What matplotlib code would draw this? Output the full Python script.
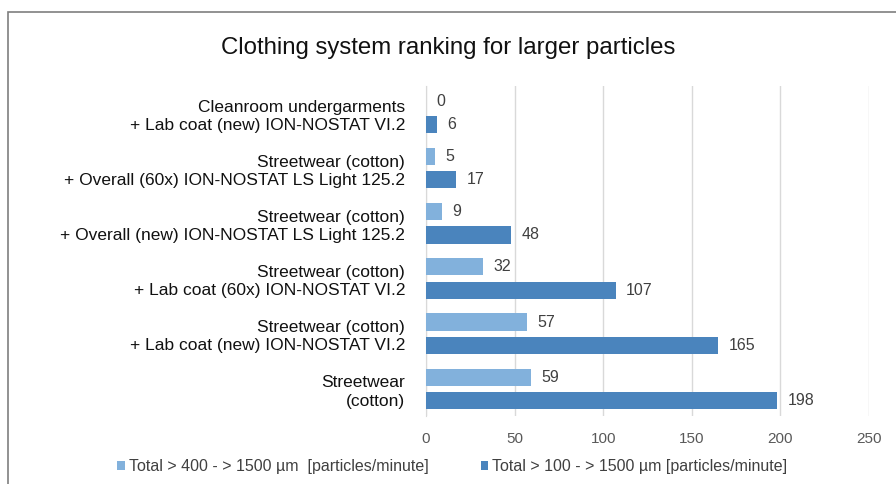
import matplotlib
matplotlib.use('Agg')
import matplotlib.pyplot as plt
from matplotlib.patches import Rectangle
import numpy as np

plt.rcParams['font.family'] = ['Liberation Sans', 'DejaVu Sans']

# Данные
categories = [
    'Cleanroom undergarments\n+ Lab coat (new) ION-NOSTAT VI.2',
    'Streetwear (cotton)\n+ Overall (60x) ION-NOSTAT LS Light 125.2',
    'Streetwear (cotton)\n+ Overall (new) ION-NOSTAT LS Light 125.2',
    'Streetwear (cotton)\n+ Lab coat (60x) ION-NOSTAT VI.2',
    'Streetwear (cotton)\n+ Lab coat (new) ION-NOSTAT VI.2',
    'Streetwear\n(cotton)',
]
large_vals = [0, 5, 9, 32, 57, 59]
total_vals = [6, 17, 48, 107, 165, 198]
x_ticks = [0, 50, 100, 150, 200, 250]
label_large = 'Total > 400 - > 1500 µm  [particles/minute]'
label_total = 'Total > 100 - > 1500 µm [particles/minute]'

c_light = '#82b1dc'
c_dark = '#4a84bd'

fig = plt.figure(figsize=(8.96, 4.84), dpi=100)
ax = fig.add_axes([0.4754, 0.140, 0.4945, 0.683])

y = np.arange(len(categories))
h = 0.31
off = 0.21
b1 = ax.barh(y - off, large_vals, height=h, color=c_light, label=label_large, zorder=3)
b2 = ax.barh(y + off, total_vals, height=h, color=c_dark, label=label_total, zorder=3)

# Подписи значений
for bars, vals in ((b1, large_vals), (b2, total_vals)):
    for r, v in zip(bars, vals):
        ax.text(v + 6, r.get_y() + r.get_height() / 2, str(v), va='center', ha='left',
                fontsize=11.5, color='#404040')

ax.set_xlim(0, 250)
ax.set_ylim(len(categories) - 0.5, -0.5)
ax.set_xticks(x_ticks)
ax.set_yticks(y)
ax.set_yticklabels(categories, fontsize=12.5, color='#111111', linespacing=1.28)
ax.tick_params(axis='x', length=0, labelsize=11, colors='#595959', pad=11)
ax.tick_params(axis='y', length=0, pad=15)
ax.grid(axis='x', color='#d9d9d9', linewidth=1, zorder=0)
for s in ('top', 'right', 'bottom'):
    ax.spines[s].set_visible(False)
ax.spines['left'].set_color('#d9d9d9')

fig.text(0.5, 0.90, 'Clothing system ranking for larger particles', ha='center', va='center',
         fontsize=17.3, color='#111111')

fig.legend(handles=[b1, b2], loc='center left', bbox_to_anchor=(0.115, 0.036), ncol=2,
           frameon=False, fontsize=11.5, handlelength=0.45, handleheight=0.45, handletextpad=0.25,
           columnspacing=3.3, labelcolor='#404040')

# Рамка
fig.patches.append(Rectangle((8 / 896, -0.1), 1.2, 1 - 12 / 484 + 0.1, transform=fig.transFigure,
                             fill=False, edgecolor='#7f7f7f', linewidth=1.2))

plt.savefig('out.png', dpi=100)
